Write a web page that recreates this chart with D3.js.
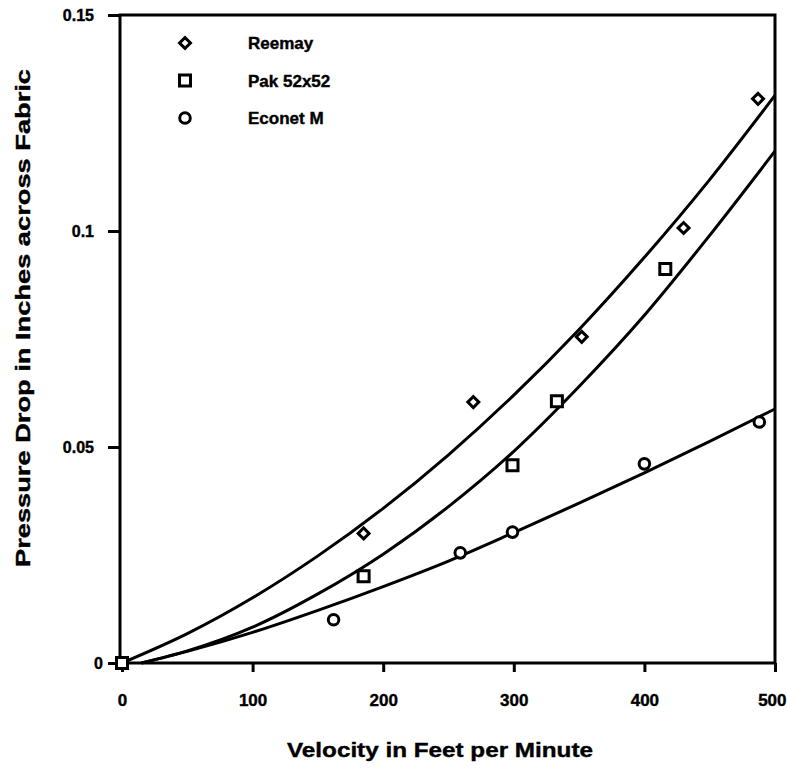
<!DOCTYPE html>
<html>
<head>
<meta charset="utf-8">
<script src="https://cdn.jsdelivr.net/npm/d3@7"></script>
<style>
  body { margin: 0; background: #fff; }
  text { font-family: 'Liberation Sans', Arial, Helvetica, sans-serif; font-weight: bold; fill: #000; stroke: #000; stroke-width: 0.4px; }
</style>
</head>
<body>
<div id="chart"></div>
<script>
// axis ticks
const xTicks = [0, 100, 200, 300, 400, 500];
const yTicks = [0, 0.05, 0.1, 0.15];
const seriesNames = ['Reemay', 'Pak 52x52', 'Econet M'];

// measured points
const reemayX = [185, 269, 352, 430, 487];
const reemayY = [0.030, 0.0604, 0.0755, 0.1007, 0.1306];
const pakX = [0, 185, 299, 333, 416];
const pakY = [0, 0.0201, 0.0458, 0.0606, 0.0912];
const econetX = [162, 259, 299, 400, 488];
const econetY = [0.010, 0.0255, 0.0303, 0.0461, 0.0558];

// fitted curves
const reemayFitX = [0, 50, 100, 150, 200, 250, 300, 350, 400, 450, 500];
const reemayFitY = [0, 0.0068, 0.0151, 0.0248, 0.0358, 0.0482, 0.0620, 0.0772, 0.0939, 0.1119, 0.1314];
const pakFitX = [15, 50, 100, 150, 200, 250, 300, 350, 400, 450, 500];
const pakFitY = [0, 0.0028, 0.0083, 0.0160, 0.0252, 0.0362, 0.0490, 0.0640, 0.0805, 0.0990, 0.1185];
const econetFitX = [15, 50, 100, 150, 200, 250, 300, 350, 400, 450, 500];
const econetFitY = [0, 0.0027, 0.0071, 0.0122, 0.0177, 0.0236, 0.0302, 0.0370, 0.0440, 0.0513, 0.0588];

const width = 787;
const height = 768;
const left = 120;

const x = d3.scaleLinear().domain([0, 500]).range([122, 775]);
const y = d3.scaleLinear().domain([0, 0.15]).range([663, 15]);

const svg = d3.select('#chart')
  .append('svg')
  .attr('width', width)
  .attr('height', height)
  .style('background', '#fff');

// frame
svg.append('rect')
  .attr('x', left)
  .attr('y', y.range()[1])
  .attr('width', x.range()[1] - left)
  .attr('height', y.range()[0] - y.range()[1])
  .attr('fill', 'none')
  .attr('stroke', '#000')
  .attr('stroke-width', 3);

// y axis
svg.append('g')
  .attr('transform', `translate(${left},0)`)
  .call(d3.axisLeft(y).tickValues(yTicks).tickFormat(d => String(d))
    .tickSize(12).tickSizeOuter(0).tickPadding(14))
  .call(g => g.select('.domain').remove())
  .call(g => g.selectAll('line').attr('stroke', '#000').attr('stroke-width', 3))
  .call(g => g.selectAll('text').style('font-size', '16px').attr('fill', '#000'))
  // the zero label sits closer to the axis in the original
  .call(g => g.selectAll('text').filter(d => d === 0).attr('x', -17));

// x axis
svg.append('g')
  .attr('transform', `translate(0,${y(0)})`)
  .call(d3.axisBottom(x).tickValues(xTicks).tickSize(9).tickSizeOuter(0).tickPadding(22))
  .call(g => g.select('.domain').remove())
  .call(g => g.selectAll('line').attr('stroke', '#000').attr('stroke-width', 3))
  .call(g => g.selectAll('text').style('font-size', '17px').attr('fill', '#000'))
  .call(g => g.selectAll('text').filter(d => d === 500).attr('text-anchor', 'end').attr('x', 11));

// axis titles
svg.append('text')
  .attr('x', 440)
  .attr('y', 757)
  .attr('text-anchor', 'middle')
  .attr('textLength', 306)
  .attr('lengthAdjust', 'spacingAndGlyphs')
  .style('font-size', '21px')
  .text('Velocity in Feet per Minute');

svg.append('text')
  .attr('transform', 'translate(30,318) rotate(-90)')
  .attr('text-anchor', 'middle')
  .attr('textLength', 498)
  .attr('lengthAdjust', 'spacingAndGlyphs')
  .style('font-size', '21px')
  .text('Pressure Drop in Inches across Fabric');

// fitted curves
const line = d3.line()
  .x(d => x(d[0]))
  .y(d => y(d[1]))
  .curve(d3.curveMonotoneX);

const fits = [
  d3.zip(reemayFitX, reemayFitY),
  d3.zip(pakFitX, pakFitY),
  d3.zip(econetFitX, econetFitY)
];

svg.append('g')
  .selectAll('path')
  .data(fits)
  .enter()
  .append('path')
  .attr('d', line)
  .attr('fill', 'none')
  .attr('stroke', '#000')
  .attr('stroke-width', 3);

// markers
const symbols = [
  { shape: d3.symbol(d3.symbolSquare, 60), rotate: 45 },
  { shape: d3.symbol(d3.symbolSquare, 121), rotate: 0 },
  { shape: d3.symbol(d3.symbolCircle, 88), rotate: 0 }
];

const points = [
  d3.zip(reemayX, reemayY),
  d3.zip(pakX, pakY),
  d3.zip(econetX, econetY)
];

// draw econet, reemay, then pak so the square sits on top at the origin
[2, 0, 1].forEach(i => {
  svg.append('g')
    .selectAll('path')
    .data(points[i])
    .enter()
    .append('path')
    .attr('d', symbols[i].shape)
    .attr('transform', d => `translate(${x(d[0])},${y(d[1])}) rotate(${symbols[i].rotate})`)
    .attr('fill', '#fff')
    .attr('stroke', '#000')
    .attr('stroke-width', 3);
});

// legend
const legend = svg.append('g')
  .selectAll('g')
  .data(seriesNames)
  .enter()
  .append('g')
  .attr('transform', (d, i) => `translate(185,${43 + i * 37.5})`);

legend.append('path')
  .attr('d', (d, i) => symbols[i].shape())
  .attr('transform', (d, i) => `rotate(${symbols[i].rotate})`)
  .attr('fill', '#fff')
  .attr('stroke', '#000')
  .attr('stroke-width', 3);

legend.append('text')
  .attr('x', 63)
  .attr('dy', '0.38em')
  .style('font-size', '17px')
  .text(d => d);
</script>
</body>
</html>
